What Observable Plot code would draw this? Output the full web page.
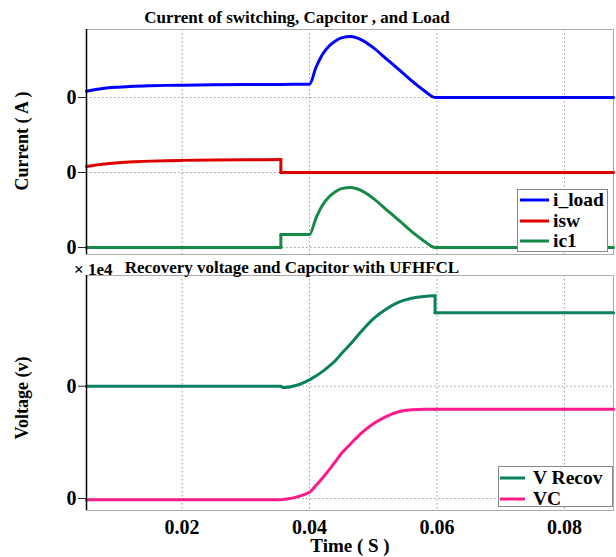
<!DOCTYPE html>
<html><head><meta charset="utf-8">
<script src="https://cdn.jsdelivr.net/npm/d3@7"></script>
<script src="https://cdn.jsdelivr.net/npm/@observablehq/plot@0.6"></script>
<style>
body{margin:0;background:#fff;}
#wrap{position:relative;width:616px;height:557px;overflow:hidden;}
#wrap > svg{position:absolute;left:0;}
#wrap svg, #wrap svg text{font-family:"Liberation Serif","Times New Roman",serif !important;font-weight:bold !important;}
</style></head><body><div id="wrap"></div>
<script>
// ---------- data ----------
const tTop = [0.005,0.0075,0.01,0.0125,0.015,0.0175,0.02,0.025,0.03,0.0355,0.0355,0.04,0.041,0.042,0.043,0.044,0.045,0.0465,0.048,0.05,0.052,0.054,0.056,0.058,0.0597,0.065,0.07,0.08,0.0877];
const iLoad = [0.084,0.12,0.138,0.15,0.157,0.162,0.165,0.17,0.173,0.175,0.175,0.178,0.40,0.57,0.68,0.75,0.795,0.813,0.775,0.665,0.52,0.375,0.225,0.09,0,0,0,0,0];
const iSw   = [0.08,0.11,0.13,0.143,0.152,0.158,0.162,0.167,0.17,0.173,0,0,0,0,0,0,0,0,0,0,0,0,0,0,0,0,0,0,0];
const iC1   = [0,0,0,0,0,0,0,0,0,0,0.173,0.173,0.39,0.56,0.67,0.74,0.785,0.80,0.765,0.655,0.51,0.365,0.215,0.085,0,0,0,0,0];

const tBot = [0.005,0.01,0.02,0.03,0.0355,0.0358,0.04,0.041,0.042,0.043,0.044,0.045,0.0465,0.048,0.05,0.052,0.054,0.056,0.058,0.0597,0.0597,0.065,0.07,0.08,0.0877];
const vRecov = [0,0,0,0,0,-0.012,0.057,0.09,0.13,0.175,0.225,0.29,0.38,0.48,0.60,0.685,0.748,0.783,0.80,0.805,0.654,0.654,0.654,0.654,0.654];
const vC     = [-0.012,-0.012,-0.012,-0.012,-0.012,-0.010,0.056,0.115,0.18,0.25,0.325,0.40,0.49,0.575,0.665,0.73,0.772,0.79,0.795,0.795,0.795,0.795,0.795,0.795,0.795];

const topNames = ["i_load","isw","ic1"];
const topColors = ["#0000ff","#e00000","#138a45"];
const topBaselines = [2,1,0];
const botNames = ["V Recov","VC"];
const botColors = ["#0a8060","#ff1a8c"];
const botBaselines = [1,0];
const xTicks = [0.02,0.04,0.06,0.08];
const xDomain = [0.005,0.0877];

// ---------- helpers ----------
function build(times, list){
  const out=[];
  for(const s of list){
    let seg=0;
    for(let i=0;i<times.length;i++){
      if(i>0 && times[i]===times[i-1]){
        seg++;
        out.push({t:times[i-1],v:s.values[i-1]+s.base,s:s.name,z:s.name+"_"+seg});
        out.push({t:times[i],v:s.values[i]+s.base,s:s.name,z:s.name+"_"+seg});
        seg++;
      }
      out.push({t:times[i],v:s.values[i]+s.base,s:s.name,z:s.name+"_"+seg});
    }
  }
  return out;
}
const topData = build(tTop,[
  {name:topNames[0],values:iLoad,base:topBaselines[0]},
  {name:topNames[1],values:iSw,base:topBaselines[1]},
  {name:topNames[2],values:iC1,base:topBaselines[2]}]);
const botData = build(tBot,[
  {name:botNames[0],values:vRecov,base:botBaselines[0]},
  {name:botNames[1],values:vC,base:botBaselines[1]}]);

const FONT = '"Liberation Serif","Times New Roman",serif';
const baseStyle = {fontFamily:FONT,fontSize:"20px",fontWeight:"bold",background:"transparent",overflow:"visible",color:"#000"};
const grid = {stroke:"#999",strokeOpacity:1,strokeWidth:1,strokeDasharray:"1.5,2.5"};

const topPlot = Plot.plot({
  width:616,height:270,marginLeft:86,marginRight:3,marginTop:29,marginBottom:16,
  style:baseStyle,
  x:{domain:xDomain,axis:null},
  y:{domain:[-0.093,2.907],axis:null},
  color:{domain:topNames,range:topColors},
  marks:[
    Plot.ruleX(xTicks,grid),
    Plot.ruleY(topBaselines,grid),
    Plot.frame({stroke:"#aaa"}),
    Plot.line(topData,{x:"t",y:"v",z:"z",stroke:"s",strokeWidth:3,curve:"monotone-x"}),
    Plot.axisY(topBaselines,{tickFormat:()=>"0",tickSize:8,tickPadding:2,label:null,stroke:"#222"}),
    Plot.ruleX([xDomain[0]],{stroke:"#000",strokeWidth:1.5})
  ]
});
topPlot.style.top="0px";

const botPlot = Plot.plot({
  width:616,height:295,marginLeft:86,marginRight:3,marginTop:13,marginBottom:47,
  style:baseStyle,
  x:{domain:xDomain,axis:null},
  y:{domain:[-0.107,1.986],axis:null},
  color:{domain:botNames,range:botColors},
  marks:[
    Plot.ruleX(xTicks,grid),
    Plot.ruleY(botBaselines,grid),
    Plot.frame({stroke:"#aaa"}),
    Plot.line(botData,{x:"t",y:"v",z:"z",stroke:"s",strokeWidth:3,curve:"monotone-x"}),
    Plot.axisY(botBaselines,{tickFormat:()=>"0",tickSize:8,tickPadding:2,label:null,stroke:"#222"}),
    Plot.axisX(xTicks,{tickFormat:d3.format(".2f"),tickSize:0,tickPadding:9,label:null}),
    Plot.ruleX([xDomain[0]],{stroke:"#000",strokeWidth:1.5})
  ]
});
botPlot.style.top="262px";

const wrap = document.getElementById("wrap");
wrap.appendChild(topPlot);
wrap.appendChild(botPlot);

// ---------- overlay text: titles, axis labels, legends ----------
const ov = d3.select(wrap).append("svg").attr("width",616).attr("height",557)
  .style("position","absolute").style("top","0px").style("left","0px")
  .attr("fill","#000");

ov.append("text").attr("x",297).attr("y",23).attr("text-anchor","middle").attr("font-size",17)
  .text("Current of switching, Capcitor , and Load");
ov.append("text").attr("x",292).attr("y",273).attr("text-anchor","middle").attr("font-size",17)
  .text("Recovery voltage and Capcitor with UFHFCL");
ov.append("text").attr("x",74).attr("y",275).attr("font-size",17).text("× 1e4");
ov.append("text").attr("transform","translate(28,141) rotate(-90)").attr("text-anchor","middle").attr("font-size",18)
  .text("Current ( A )");
ov.append("text").attr("transform","translate(28,398) rotate(-90)").attr("text-anchor","middle").attr("font-size",18)
  .text("Voltage (v)");
ov.append("text").attr("x",350).attr("y",552).attr("text-anchor","middle").attr("font-size",19)
  .text("Time ( S )");

function legend(x,y,w,h,names,colors,ys,x0,x1,tx){
  ov.append("rect").attr("x",x).attr("y",y).attr("width",w).attr("height",h)
    .attr("fill","#fff").attr("stroke","#888").attr("stroke-width",1);
  names.forEach((n,i)=>{
    ov.append("line").attr("x1",x0).attr("x2",x1).attr("y1",ys[i]).attr("y2",ys[i])
      .attr("stroke",colors[i]).attr("stroke-width",3);
    ov.append("text").attr("x",tx).attr("y",ys[i]+6).attr("font-size",19.5).text(n);
  });
}
legend(517.5,189.5,90,62,topNames,topColors,[200,221,241],520,549,553);
legend(498.5,466.5,114,40,botNames,botColors,[478,499],500,525,533);
</script></body></html>
